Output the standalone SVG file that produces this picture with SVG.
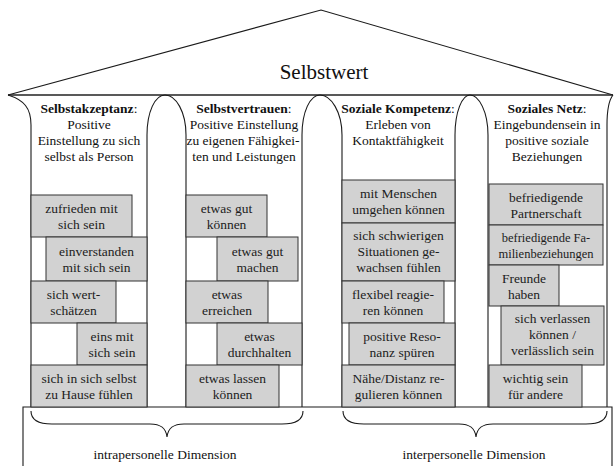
<svg xmlns="http://www.w3.org/2000/svg" width="615" height="466" viewBox="0 0 615 466" font-family="Liberation Serif, Times New Roman, DejaVu Serif, serif">
<style>
  .ln{fill:none;stroke:#1a1a1a;stroke-width:1.1}
  .brick rect{fill:#d2d2d2;stroke:#333;stroke-width:1}
  text{font-family:'Liberation Serif','Times New Roman','DejaVu Serif',serif;fill:#111;text-anchor:middle}
  .h{font-size:13.5px}
  .b{font-weight:bold}
  .t{font-size:13.5px;fill:#1c1c1c}
  .ts{font-size:12.5px;fill:#1c1c1c}
</style>
<rect width="615" height="466" fill="#fff"/>

<g id="roof">
  <path class="ln" d="M8,95 L321,10 L613,95"/>
  <path d="M8,95 H613" stroke="#222" stroke-width="1.5" fill="none"/>
  <text x="324" y="79" style="font-size:21px">Selbstwert</text>
</g>

<g id="walls">
  <path class="ln" d="M8,95 C24,100 31,108 31,125 V407"/>
  <path class="ln" d="M147,407 V135 C147,112 155,95 165,95 C176,95 186,112 186,135 V407"/>
  <path class="ln" d="M302,407 V135 C302,112 310,95 320,95 C331,95 342,112 342,135 V407"/>
  <path class="ln" d="M455,407 V135 C455,112 462,95 470,95 C479,95 488,112 488,135 V407"/>
  <path class="ln" d="M613,95 C609,100 607,110 607,125 V407"/>
</g>

<g id="base">
  <path class="ln" d="M23,466 V407 H612 V466"/>
</g>

<g id="col1-header">
  <text class="h" x="89" y="113"><tspan class="b">Selbstakzeptanz</tspan>:</text>
  <text class="h" x="89" y="129">Positive</text>
  <text class="h" x="89" y="145">Einstellung zu sich</text>
  <text class="h" x="89" y="161">selbst als Person</text>
</g>
<g id="col2-header">
  <text class="h" x="244" y="113"><tspan class="b">Selbstvertrauen</tspan>:</text>
  <text class="h" x="244" y="129">Positive Einstellung</text>
  <text class="h" x="243" y="145">zu eigenen Fähigkei-</text>
  <text class="h" x="244" y="161">ten und Leistungen</text>
</g>
<g id="col3-header">
  <text class="h" x="398" y="113"><tspan class="b">Soziale Kompetenz</tspan>:</text>
  <text class="h" x="398" y="129">Erleben von</text>
  <text class="h" x="398" y="145">Kontaktfähigkeit</text>
</g>
<g id="col4-header">
  <text class="h" x="547" y="113"><tspan class="b">Soziales Netz</tspan>:</text>
  <text class="h" x="547" y="129">Eingebundensein in</text>
  <text class="h" x="547" y="145">positive soziale</text>
  <text class="h" x="547" y="161">Beziehungen</text>
</g>

<!-- Column 1 bricks -->
<g id="b1-1" class="brick"><rect x="31" y="195" width="101" height="42"/>
  <text class="t" x="81.5" y="213">zufrieden mit</text><text class="t" x="81.5" y="229">sich sein</text></g>
<g id="b1-2" class="brick"><rect x="46" y="237" width="101" height="44"/>
  <text class="t" x="96.5" y="256">einverstanden</text><text class="t" x="96.5" y="272">mit sich sein</text></g>
<g id="b1-3" class="brick"><rect x="31" y="281" width="85" height="42"/>
  <text class="t" x="73.5" y="299">sich wert-</text><text class="t" x="73.5" y="315">schätzen</text></g>
<g id="b1-4" class="brick"><rect x="77" y="323" width="70" height="42"/>
  <text class="t" x="112" y="341">eins mit</text><text class="t" x="112" y="357">sich sein</text></g>
<g id="b1-5" class="brick"><rect x="31" y="365" width="116" height="42"/>
  <text class="t" x="89" y="383">sich in sich selbst</text><text class="t" x="89" y="399">zu Hause fühlen</text></g>

<!-- Column 2 bricks -->
<g id="b2-1" class="brick"><rect x="186" y="195" width="81" height="42"/>
  <text class="t" x="226.5" y="213">etwas gut</text><text class="t" x="226.5" y="229">können</text></g>
<g id="b2-2" class="brick"><rect x="217" y="237" width="81" height="44"/>
  <text class="t" x="257.5" y="256">etwas gut</text><text class="t" x="257.5" y="272">machen</text></g>
<g id="b2-3" class="brick"><rect x="186" y="281" width="82" height="42"/>
  <text class="t" x="227" y="299">etwas</text><text class="t" x="227" y="315">erreichen</text></g>
<g id="b2-4" class="brick"><rect x="217" y="323" width="85" height="42"/>
  <text class="t" x="259.5" y="341">etwas</text><text class="t" x="259.5" y="357">durchhalten</text></g>
<g id="b2-5" class="brick"><rect x="186" y="365" width="93" height="42"/>
  <text class="t" x="232.5" y="383">etwas lassen</text><text class="t" x="232.5" y="399">können</text></g>

<!-- Column 3 bricks -->
<g id="b3-1" class="brick"><rect x="342" y="180" width="113" height="43"/>
  <text class="t" x="398.5" y="198">mit Menschen</text><text class="t" x="398.5" y="214">umgehen können</text></g>
<g id="b3-2" class="brick"><rect x="342" y="223" width="113" height="58"/>
  <text class="t" x="398.5" y="240">sich schwierigen</text><text class="t" x="398.5" y="256">Situationen ge-</text><text class="t" x="398.5" y="272">wachsen fühlen</text></g>
<g id="b3-3" class="brick"><rect x="342" y="281" width="102" height="42"/>
  <text class="t" x="393" y="299">flexibel reagie-</text><text class="t" x="393" y="315">ren können</text></g>
<g id="b3-4" class="brick"><rect x="349" y="323" width="106" height="42"/>
  <text class="t" x="402" y="341">positive Reso-</text><text class="t" x="402" y="357">nanz spüren</text></g>
<g id="b3-5" class="brick"><rect x="342" y="365" width="113" height="42"/>
  <text class="t" x="398.5" y="383">Nähe/Distanz re-</text><text class="t" x="398.5" y="399">gulieren können</text></g>

<!-- Column 4 bricks -->
<g id="b4-1" class="brick"><rect x="489" y="184" width="114" height="41"/>
  <text class="t" x="546" y="202">befriedigende</text><text class="t" x="546" y="218">Partnerschaft</text></g>
<g id="b4-2" class="brick"><rect x="489" y="225" width="114" height="40"/>
  <text class="ts" x="546" y="242">befriedigende Fa-</text><text class="ts" x="546" y="258">milienbeziehungen</text></g>
<g id="b4-3" class="brick"><rect x="489" y="265" width="70" height="41"/>
  <text class="t" x="524" y="283">Freunde</text><text class="t" x="524" y="299">haben</text></g>
<g id="b4-4" class="brick"><rect x="501" y="306" width="103" height="59"/>
  <text class="t" x="552.5" y="323">sich verlassen</text><text class="t" x="552.5" y="339">können /</text><text class="t" x="552.5" y="355">verlässlich sein</text></g>
<g id="b4-5" class="brick"><rect x="489" y="365" width="93" height="42"/>
  <text class="t" x="535.5" y="383">wichtig sein</text><text class="t" x="535.5" y="399">für andere</text></g>

<g id="connectors">
  <path class="ln" d="M31,411 C31,420 38,424 52,424 L150,424 C161,424 166,428 167,437 C168,428 173,424 184,424 L282,424 C296,424 303,420 303,411"/>
  <path class="ln" d="M343,411 C343,420 350,424 364,424 L459,424 C470,424 475,428 476,437 C477,428 482,424 493,424 L586,424 C600,424 607,420 607,411"/>
</g>

<g id="labels">
  <text class="h" x="165" y="459">intrapersonelle Dimension</text>
  <text class="h" x="474" y="459">interpersonelle Dimension</text>
</g>
</svg>
